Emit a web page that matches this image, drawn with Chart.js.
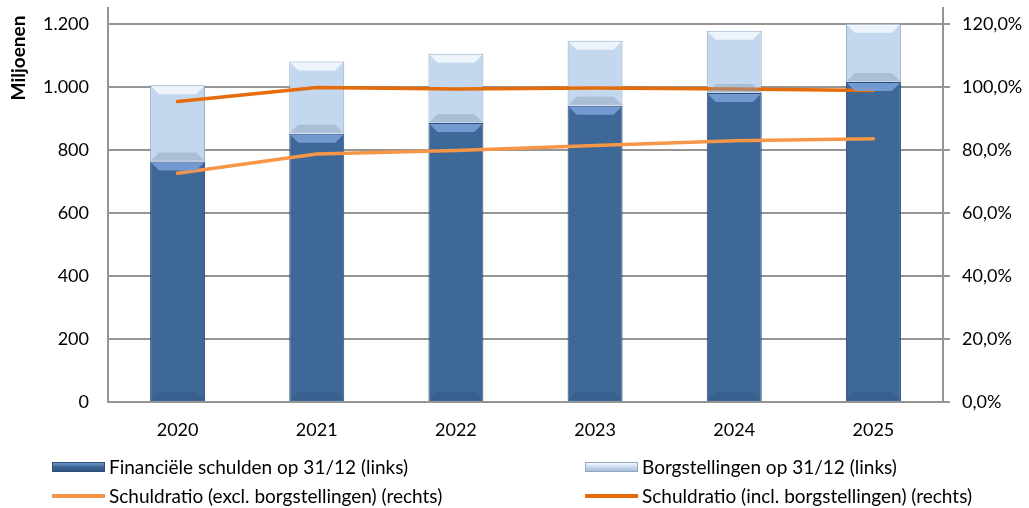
<!DOCTYPE html>
<html>
<head>
<meta charset="utf-8">
<script src="https://cdn.jsdelivr.net/npm/chart.js@4"></script>
<style>
  html, body { margin: 0; padding: 0; background: #fff; }
  #wrap { position: relative; width: 1029px; height: 508px; }
  #legend { position: absolute; left: 0; top: 0; width: 1029px; height: 508px; pointer-events: none;
            font-family: Lato, sans-serif; font-size: 19px; color: #000; }
  .item { position: absolute; height: 22px; line-height: 22px; white-space: nowrap; }
  .swatch { position: absolute; left: 0; }
  .label { position: absolute; }
</style>
</head>
<body>
<div id="wrap">
  <canvas id="chart" width="1029" height="508"></canvas>
  <div id="legend"></div>
</div>
<script>
// --- DATA ---
const years = ['2020', '2021', '2022', '2023', '2024', '2025'];
const financieleSchulden = [763, 851, 885, 940, 980, 1015];
const borgstellingen = [242, 229, 220, 206, 198, 185];
const ratioExcl = [72.6, 78.7, 79.8, 81.4, 82.9, 83.5];
const ratioIncl = [95.3, 99.8, 99.3, 99.6, 99.3, 98.8];
const leftTicks = [0, 200, 400, 600, 800, 1000, 1200];
const rightTicks = [0, 20, 40, 60, 80, 100, 120];

const seriesLabels = [
    'Financiële schulden op 31/12 (links)',
    'Borgstellingen op 31/12 (links)',
    'Schuldratio (excl. borgstellingen) (rechts)',
    'Schuldratio (incl. borgstellingen) (rechts)'
];

// --- STYLE ---
const FONT = 'Lato, sans-serif';
const GRID = '#959595';
const DARK_ORANGE = '#E46C0A';
const LIGHT_ORANGE = '#F79646';

// horizontal gradient across each bar to give it a bit of a bevel look
function barGradient(ctx, stops) {
    const chart = ctx.chart;
    const area = chart.chartArea;
    if (!area) return stops[1];
    const meta = chart.getDatasetMeta(ctx.datasetIndex);
    const el = meta.data[ctx.dataIndex];
    if (!el || !el.width) return stops[1];
    const x0 = el.x - el.width / 2, x1 = el.x + el.width / 2;
    const g = chart.ctx.createLinearGradient(x0, 0, x1, 0);
    g.addColorStop(0, stops[0]);
    g.addColorStop(0.12, stops[1]);
    g.addColorStop(0.85, stops[1]);
    g.addColorStop(1, stops[2]);
    return g;
}

const darkStops = ['#4A78AC', '#3D6898', '#2F5381'];
const lightStops = ['#D3E2F2', '#C3D7EE', '#A9BDD4'];

// draws the top bevel highlight on each bar segment
const bevelPlugin = {
    id: 'bevel',
    afterDatasetsDraw(chart) {
        const ctx = chart.ctx;
        [0, 1].forEach(di => {
            const meta = chart.getDatasetMeta(di);
            const hi = di === 0 ? 'rgba(120,160,215,0.9)' : 'rgba(240,246,252,0.95)';
            const lo = di === 0 ? 'rgba(40,70,110,0.25)' : 'rgba(140,160,185,0.45)';
            meta.data.forEach(el => {
                const left = el.x - el.width / 2, right = el.x + el.width / 2;
                const top = Math.min(el.y, el.base), bottom = Math.max(el.y, el.base);
                const b = 9;
                ctx.save();
                ctx.fillStyle = hi;
                ctx.beginPath();
                ctx.moveTo(left + 1, top + 1);
                ctx.lineTo(right - 1, top + 1);
                ctx.lineTo(right - b, top + b);
                ctx.lineTo(left + b, top + b);
                ctx.closePath();
                ctx.fill();
                ctx.fillStyle = lo;
                ctx.beginPath();
                ctx.moveTo(left + 1, bottom - 1);
                ctx.lineTo(right - 1, bottom - 1);
                ctx.lineTo(right - b, bottom - b);
                ctx.lineTo(left + b, bottom - b);
                ctx.closePath();
                ctx.fill();
                ctx.restore();
            });
        });
    }
};

// "Miljoenen" sits at the top-left, rotated
const yTitlePlugin = {
    id: 'yTitle',
    afterDraw(chart) {
        const ctx = chart.ctx;
        ctx.save();
        ctx.translate(19, 58);
        ctx.rotate(-Math.PI / 2);
        ctx.font = 'bold 19px ' + FONT;
        ctx.fillStyle = '#000';
        ctx.textAlign = 'center';
        ctx.textBaseline = 'middle';
        ctx.fillText('Miljoenen', 0, 0);
        ctx.restore();
    }
};

const nlNumber = v => v.toLocaleString('nl-NL');
const nlPercent = v => v.toFixed(1).replace('.', ',') + '%';

const chart = new Chart(document.getElementById('chart'), {
    type: 'bar',
    data: {
        labels: years,
        datasets: [
            {
                label: seriesLabels[0],
                data: financieleSchulden,
                yAxisID: 'y',
                stack: 's',
                order: 2,
                backgroundColor: ctx => barGradient(ctx, darkStops),
                borderColor: '#2D4E78',
                borderWidth: 1,
                barPercentage: 0.395,
                categoryPercentage: 1
            },
            {
                label: seriesLabels[1],
                data: borgstellingen,
                yAxisID: 'y',
                stack: 's',
                order: 2,
                backgroundColor: ctx => barGradient(ctx, lightStops),
                borderColor: '#93A8C0',
                borderWidth: 1,
                barPercentage: 0.395,
                categoryPercentage: 1
            },
            {
                type: 'line',
                label: seriesLabels[2],
                data: ratioExcl,
                yAxisID: 'y1',
                order: 0,
                borderColor: LIGHT_ORANGE,
                backgroundColor: LIGHT_ORANGE,
                borderWidth: 3.5,
                pointRadius: 0,
                tension: 0,
                borderCapStyle: 'round'
            },
            {
                type: 'line',
                label: seriesLabels[3],
                data: ratioIncl,
                yAxisID: 'y1',
                order: 0,
                borderColor: DARK_ORANGE,
                backgroundColor: DARK_ORANGE,
                borderWidth: 3.5,
                pointRadius: 0,
                tension: 0,
                borderCapStyle: 'round'
            }
        ]
    },
    options: {
        responsive: false,
        animation: false,
        layout: { padding: { top: 8, bottom: 0, left: 0, right: 0 } },
        plugins: {
            legend: { display: false },
            tooltip: { enabled: false }
        },
        scales: {
            x: {
                stacked: true,
                grid: { display: false, drawTicks: false },
                border: { display: true, color: GRID, width: 2 },
                ticks: { color: '#000', font: { family: FONT, size: 18 }, padding: 17 },
                afterFit: s => { s.height = 106; s.paddingLeft = 0; s.paddingRight = 0; }
            },
            y: {
                stacked: true,
                position: 'left',
                min: 0,
                max: 1250,
                afterBuildTicks: s => { s.ticks = leftTicks.map(v => ({ value: v })); },
                grid: { color: GRID, lineWidth: 2, drawTicks: false },
                border: { display: true, color: GRID, width: 2 },
                ticks: { color: '#000', font: { family: FONT, size: 18 }, padding: 19,
                         callback: v => nlNumber(v) },
                afterFit: s => { s.width = 108; s.paddingTop = 0; s.paddingBottom = 0; }
            },
            y1: {
                stacked: false,
                position: 'right',
                min: 0,
                max: 125,
                afterBuildTicks: s => { s.ticks = rightTicks.map(v => ({ value: v })); },
                grid: { drawOnChartArea: false, color: GRID, lineWidth: 2, tickLength: 7 },
                border: { display: true, color: GRID, width: 2 },
                ticks: { color: '#000', font: { family: FONT, size: 18 }, padding: 12,
                         callback: v => nlPercent(v) },
                afterFit: s => { s.width = 86; s.paddingTop = 0; s.paddingBottom = 0; }
            }
        }
    },
    plugins: [bevelPlugin, yTitlePlugin]
});

// --- LEGEND (html, two columns) ---
function buildLegend() {
    const legend = document.getElementById('legend');
    const places = [
        { x: 52, y: 456 }, { x: 585, y: 456 },
        { x: 52, y: 485 }, { x: 585, y: 485 }
    ];
    chart.data.datasets.forEach((ds, i) => {
        const p = places[i];
        const item = document.createElement('div');
        item.className = 'item';
        item.style.left = p.x + 'px';
        item.style.top = p.y + 'px';
        const sw = document.createElement('div');
        sw.className = 'swatch';
        sw.style.width = '53px';
        if (ds.type === 'line') {
            sw.style.top = '9px';
            sw.style.height = '4px';
            sw.style.background = ds.borderColor;
        } else {
            sw.style.top = '6px';
            sw.style.height = '10px';
            sw.style.background = i === 0
                ? 'linear-gradient(#6E96C8, #3D6898 45%, #2F5381)'
                : 'linear-gradient(#F4F8FC, #C3D7EE 55%, #A9BDD4)';
            sw.style.boxSizing = 'border-box';
            sw.style.border = '1px solid ' + (i === 0 ? '#2D4E78' : '#93A8C0');
        }
        const lb = document.createElement('span');
        lb.className = 'label';
        lb.style.left = '57px';
        lb.textContent = ds.label;
        item.appendChild(sw);
        item.appendChild(lb);
        legend.appendChild(item);
    });
}
buildLegend();
</script>
</body>
</html>
